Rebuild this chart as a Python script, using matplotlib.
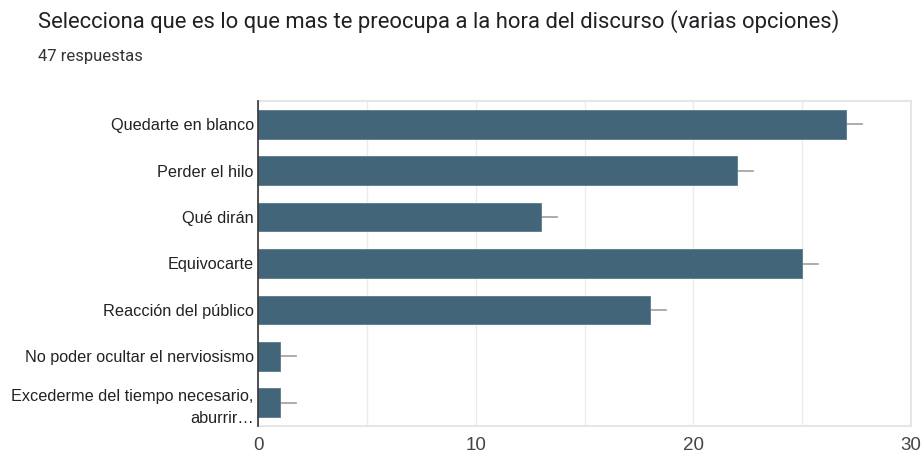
import matplotlib
matplotlib.use("Agg")
import matplotlib.pyplot as plt

categories = [
    "Quedarte en blanco",
    "Perder el hilo",
    "Qué dirán",
    "Equivocarte",
    "Reacción del público",
    "No poder ocultar el nerviosismo",
    "Excederme del tiempo necesario,\naburrir…",
]
counts = [27, 22, 13, 25, 18, 1, 1]
x_ticks = [0, 10, 20, 30]

title = "Selecciona que es lo que mas te preocupa a la hora del discurso (varias opciones)"
subtitle = "47 respuestas"

fig = plt.figure(figsize=(9.22, 4.55), dpi=100)
ax = fig.add_axes([258 / 922, 29 / 455, 653 / 922, 325 / 455])

ypos = list(range(len(categories)))
ax.barh(ypos, counts, height=0.62, color="#42657a", edgecolor="#5a7a8c", linewidth=0.6, zorder=3)

# the little grey whiskers Google draws past each bar
for y, c in zip(ypos, counts):
    ax.plot([c, c + 0.75], [y, y], color="#9e9e9e", linewidth=1.2, zorder=2)

ax.set_ylim(len(categories) - 0.5, -0.5)
ax.set_xlim(0, 30)
ax.set_yticks(ypos)
ax.set_yticklabels(categories, fontsize=11.7, family="Liberation Sans", color="#222222")
for lbl in ax.get_yticklabels():
    lbl.set_multialignment("right")
    lbl.set_linespacing(1.55)
ax.set_xticks(x_ticks)
ax.set_xticklabels([str(t) for t in x_ticks], fontsize=13.5, family="Liberation Sans", color="#444444")
ax.set_xticks(range(0, 31, 5), minor=True)
ax.tick_params(axis="both", which="both", length=0)
ax.tick_params(axis="y", pad=3)
ax.tick_params(axis="x", pad=8)
ax.grid(axis="x", which="both", color="#ebebeb", linewidth=1, zorder=0)

for side in ["top", "right", "bottom"]:
    ax.spines[side].set_color("#e6e6e6")
    ax.spines[side].set_linewidth(1.5)
ax.spines["left"].set_color("#333333")
ax.spines["left"].set_linewidth(1.2)
ax.spines["left"].set_zorder(4)

fig.text(38 / 922, 1 - 22 / 455, title, fontsize=15.85, family="Roboto", color="#202124", va="center")
fig.text(38 / 922, 1 - 57 / 455, subtitle, fontsize=12, family="Roboto", color="#333333", va="center")

fig.savefig("out.png", dpi=100)
